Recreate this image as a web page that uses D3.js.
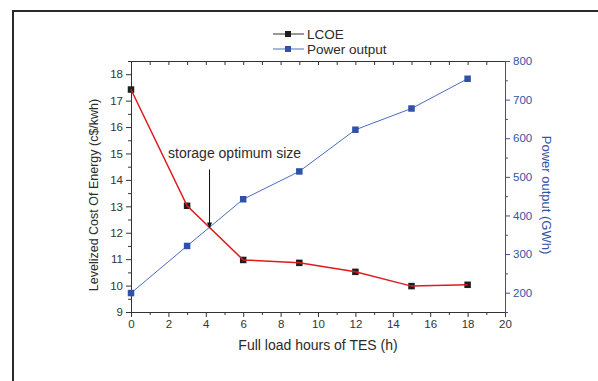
<!DOCTYPE html>
<html>
<head>
<meta charset="utf-8">
<script src="https://cdn.jsdelivr.net/npm/d3@7"></script>
<style>
  body { margin: 0; background: #fff; }
  text { font-family: "Liberation Sans", Arial, sans-serif; fill: #2b2b2b; }
</style>
</head>
<body>
<div class="canvas"></div>
<script>
const hours = [0, 3, 6, 9, 12, 15, 18]
const lcoe = [17.42, 13.02, 10.97, 10.86, 10.52, 9.98, 10.03]
const power = [199, 321, 442, 514, 622, 677, 754]
const optimum = {x: 4.2, y: 12.2, label: 'storage optimum size'}

const svg = d3.select('.canvas')
              .append('svg')
              .attr('width', 598)
              .attr('height', 381)

// frame round the figure
svg.append('path')
   .attr('d', 'M13,381 V11 H598')
   .attr('fill', 'none')
   .attr('stroke', '#2a2a2a')
   .attr('stroke-width', 2)

const m = {left: 131, right: 505, top: 61, bottom: 312}

const x = d3.scaleLinear().domain([0, 20]).range([m.left, m.right])
const yL = d3.scaleLinear().domain([9, 18.5]).range([m.bottom, m.top])
const yR = d3.scaleLinear().domain([150, 800]).range([m.bottom, m.top])

const dark = '#333'
const blue = '#3553a5'

function styleAxis(g, col) {
  g.select('.domain').attr('stroke', col)
  g.selectAll('.tick line').attr('stroke', col)
  g.selectAll('text').style('fill', col).attr('font-size', 11.5)
}

// minor ticks first so majors draw on top
svg.append('g').attr('transform', `translate(0,${m.bottom})`)
   .call(d3.axisBottom(x).tickValues(d3.range(1, 20, 2)).tickSize(3).tickFormat(''))
   .call(g => styleAxis(g, dark))
svg.append('g').attr('transform', `translate(0,${m.bottom})`)
   .call(d3.axisBottom(x).tickValues(d3.range(0, 21, 2)).tickSize(5).tickPadding(3))
   .call(g => styleAxis(g, dark))

svg.append('g').attr('transform', `translate(0,${m.top})`)
   .call(d3.axisBottom(x).tickValues(d3.range(0, 21, 1)).tickSizeInner(4).tickSizeOuter(0).tickFormat(''))
   .call(g => styleAxis(g, dark))

svg.append('g').attr('transform', `translate(${m.left},0)`)
   .call(d3.axisLeft(yL).tickValues(d3.range(9.5, 18.5, 1)).tickSize(3).tickFormat(''))
   .call(g => styleAxis(g, dark))
svg.append('g').attr('transform', `translate(${m.left},0)`)
   .call(d3.axisLeft(yL).tickValues(d3.range(9, 19, 1)).tickSize(5).tickSizeOuter(0).tickPadding(3))
   .call(g => styleAxis(g, dark))

svg.append('g').attr('transform', `translate(${m.right},0)`)
   .call(d3.axisRight(yR).tickValues(d3.range(150, 800, 100)).tickSize(3).tickFormat(''))
   .call(g => styleAxis(g, blue))
svg.append('g').attr('transform', `translate(${m.right},0)`)
   .call(d3.axisRight(yR).tickValues(d3.range(200, 801, 100)).tickSize(5).tickSizeOuter(0).tickPadding(3))
   .call(g => styleAxis(g, blue))

// axis titles
svg.append('text')
   .attr('x', 318).attr('y', 350)
   .attr('text-anchor', 'middle').attr('font-size', 14)
   .text('Full load hours of TES (h)')

svg.append('text')
   .attr('transform', 'translate(98,195) rotate(-90)')
   .attr('text-anchor', 'middle').attr('font-size', 12.5)
   .text('Levelized Cost Of Energy (c$/kwh)')

svg.append('text')
   .attr('transform', 'translate(542,195) rotate(90)')
   .attr('text-anchor', 'middle').attr('font-size', 13)
   .style('fill', blue)
   .text('Power output (GWh)')

// power output series
const powerLine = d3.line().x((d, i) => x(hours[i])).y(d => yR(d))
svg.append('path')
   .attr('d', powerLine(power))
   .attr('fill', 'none')
   .attr('stroke', '#4a6cc0')
   .attr('stroke-width', 1)

svg.append('g').selectAll('rect').data(power).enter()
   .append('rect')
   .attr('x', (d, i) => x(hours[i]) - 3.25)
   .attr('y', d => yR(d) - 3.25)
   .attr('width', 6.5).attr('height', 6.5)
   .attr('fill', '#2f52a8')

// LCOE series
const lcoeLine = d3.line().x((d, i) => x(hours[i])).y(d => yL(d))
svg.append('g').selectAll('rect').data(lcoe).enter()
   .append('rect')
   .attr('x', (d, i) => x(hours[i]) - 3.25)
   .attr('y', d => yL(d) - 3.25)
   .attr('width', 6.5).attr('height', 6.5)
   .attr('fill', '#1e1e1e')

svg.append('path')
   .attr('d', lcoeLine(lcoe))
   .attr('fill', 'none')
   .attr('stroke', '#e0191c')
   .attr('stroke-width', 1.5)

// annotation arrow
const ax = x(optimum.x), ay = yL(optimum.y)
svg.append('line')
   .attr('x1', ax).attr('x2', ax)
   .attr('y1', ay - 58).attr('y2', ay)
   .attr('stroke', '#111').attr('stroke-width', 1)
svg.append('path')
   .attr('d', `M${ax - 2.5},${ay - 5} L${ax + 2.5},${ay - 5} L${ax},${ay + 1} Z`)
   .attr('fill', '#111')
svg.append('text')
   .attr('x', 168).attr('y', 158)
   .attr('font-size', 14)
   .text(optimum.label)

// legend
const legend = [
  {name: 'LCOE', line: '#333', mark: '#1e1e1e'},
  {name: 'Power output', line: '#4a6cc0', mark: '#2f52a8'}
]
const lg = svg.append('g').selectAll('g').data(legend).enter()
   .append('g')
   .attr('transform', (d, i) => `translate(273,${34 + i * 15})`)
lg.append('line').attr('x1', 0).attr('x2', 31)
  .attr('stroke', d => d.line).attr('stroke-width', 1)
lg.append('rect').attr('x', 12).attr('y', -3).attr('width', 6).attr('height', 6)
  .attr('fill', d => d.mark)
lg.append('text').attr('x', 34).attr('y', 5)
  .attr('font-size', 13.5)
  .text(d => d.name)
</script>
</body>
</html>
